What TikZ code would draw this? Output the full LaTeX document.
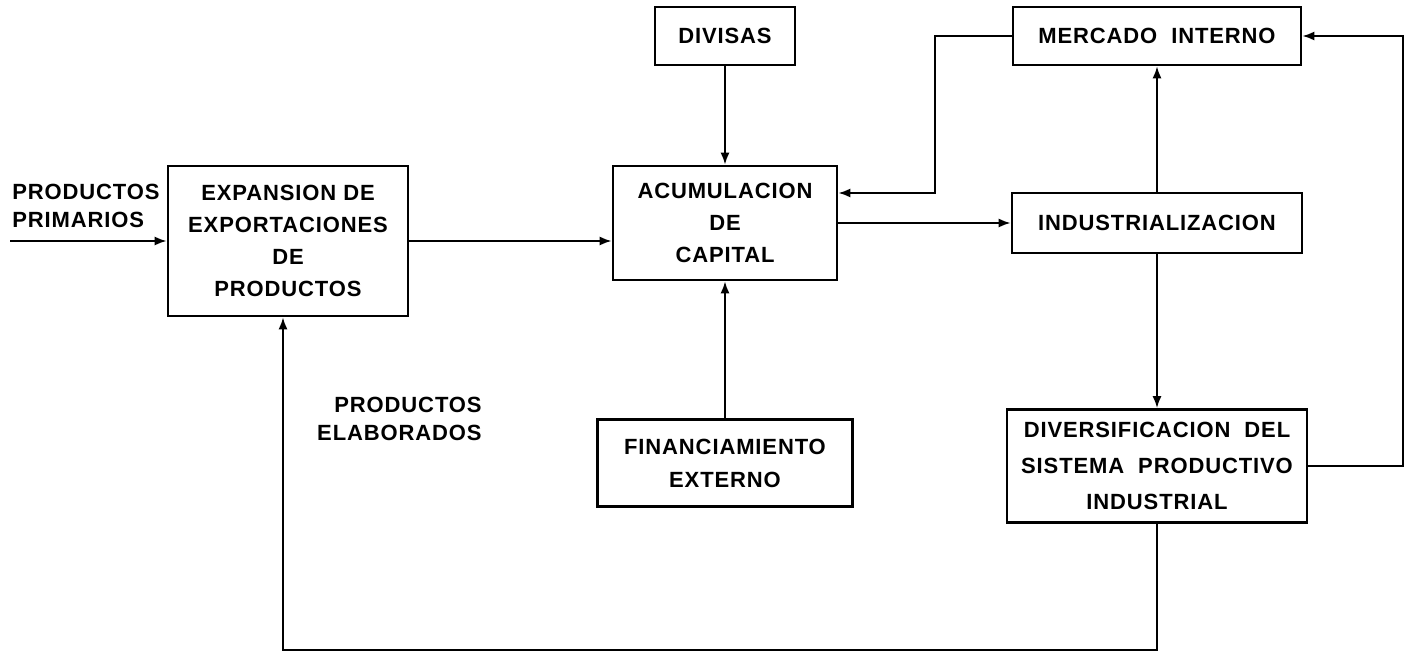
\documentclass[tikz,border=0pt]{standalone}
\usepackage{fontspec}
\setmainfont{Liberation Sans}[LetterSpace=4]
\usetikzlibrary{arrows.meta}

\tikzset{
  caja/.style={draw, line width=1.3pt, align=center, inner sep=0pt,
    font=\bfseries\fontsize{11}{16}\selectfont},
  flecha/.style={line width=1pt, -{Latex[length=6pt,width=4.5pt]}},
  texto/.style={inner sep=0pt, font=\bfseries\fontsize{11}{14}\selectfont}
}

\begin{document}
\begin{tikzpicture}[x=0.5pt,y=-0.5pt]
  \useasboundingbox (0,0) rectangle (1413,657);

  %# CAJAS DEL CENTRO
  \node[caja, minimum width=120pt, minimum height=75pt] (expansion) at (288,241)
    {EXPANSION DE\\EXPORTACIONES\\DE\\PRODUCTOS};
  \node[caja, minimum width=112pt, minimum height=57pt] (acumulacion) at (725,223)
    {ACUMULACION\\DE\\CAPITAL};
  \node[caja, minimum width=70pt, minimum height=29pt] (divisas) at (725,36) {DIVISAS};
  \node[caja, minimum width=127.5pt, minimum height=43.5pt,
    font=\bfseries\fontsize{11}{16.5}\selectfont] (financiamiento) at (725,463)
    {FINANCIAMIENTO\\EXTERNO};

  %# CAJAS DE LA DERECHA
  \node[caja, minimum width=144pt, minimum height=29pt] (mercado) at (1157,36)
    {MERCADO\ \ INTERNO};
  \node[caja, minimum width=145pt, minimum height=30pt] (industrializacion) at (1157,223)
    {INDUSTRIALIZACION};
  \node[caja, minimum width=150pt, minimum height=56.5pt,
    font=\bfseries\fontsize{11}{18}\selectfont] (diversificacion) at (1157,466)
    {DIVERSIFICACION\ \ DEL\\SISTEMA\ \ PRODUCTIVO\\INDUSTRIAL};

  %# TEXTOS SUELTOS
  \node[texto, anchor=north west, align=left] (primarios) at (12,184) {PRODUCTOS\\PRIMARIOS};
  \node[texto, anchor=north east, align=right] (elaborados) at (482,397) {PRODUCTOS\\ELABORADOS};

  %# FLECHAS
  \coordinate (entrada) at (10,241);
  \draw[flecha] (entrada) -- (expansion.west);
  \draw[flecha] (expansion.east) -- (expansion.east -| acumulacion.west);
  \draw[flecha] (divisas) -- (acumulacion);
  \draw[flecha] (financiamiento) -- (acumulacion);
  \draw[flecha] (acumulacion) -- (industrializacion);
  \draw[flecha] (industrializacion) -- (mercado);
  \draw[flecha] (industrializacion) -- (diversificacion);

  %# RETORNOS
  \coordinate (codo) at (935,193);
  \draw[flecha] (mercado.west) -| (codo) -- (codo -| acumulacion.east);
  \coordinate (derecha) at (1403,36);
  \draw[flecha] (diversificacion.east) -| (derecha) -- (mercado.east);
  \coordinate (abajo) at (283,650);
  \draw[flecha] (diversificacion.south) |- (abajo) -- (abajo |- expansion.south);
\end{tikzpicture}
\end{document}
